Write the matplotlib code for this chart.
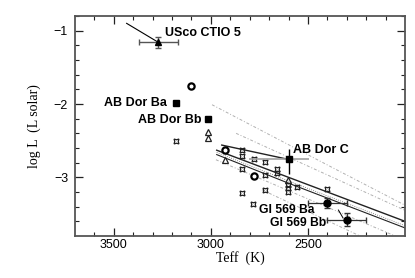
import matplotlib
matplotlib.use("Agg")
import matplotlib.pyplot as plt

# labelled objects
usco_teff, usco_logl = 3270, -1.16
abdor_ba = (3180, -1.99)
abdor_bb = (3013, -2.21)
abdor_c = (2600, -2.75)
gl569_ba = (2400, -3.35)
gl569_bb = (2300, -3.58)

# field / cluster comparison objects
star_teff = [3180, 2841, 2841, 2778, 2721, 2841, 2661, 2661, 2721, 2721, 2841, 2785, 2601, 2601, 2601, 2558, 2403]
star_logl = [-2.51, -2.63, -2.71, -2.75, -2.79, -2.89, -2.88, -2.94, -2.97, -3.17, -3.22, -3.36, -3.10, -3.15, -3.20, -3.13, -3.16]
tri_teff = [3013, 3013, 2927, 2601]
tri_logl = [-2.38, -2.46, -2.76, -3.04]
ring_teff = [3102, 2780, 2927]
ring_logl = [-1.76, -2.98, -2.63]

# model tracks
iso_a_teff = [2944, 2601]
iso_a_logl = [-2.56, -2.755]
iso_b_teff = [2970, 2600, 2000]
iso_b_logl = [-2.63, -3.00, -3.60]
iso_c_teff = [2970, 2600, 2000]
iso_c_logl = [-2.69, -3.08, -3.69]
grey_tracks = [
    ([2994, 2350, 2000], [-2.01, -2.90, -3.38]),
    ([2870, 2000], [-2.40, -3.45]),
    ([2974, 2051], [-2.76, -3.80]),
    ([2737, 2232], [-3.17, -3.80]),
]

lab_font = dict(family="Liberation Sans", weight="bold", fontsize=9)

fig = plt.figure(figsize=(4.15, 2.78), dpi=100)
ax = fig.add_axes([0.1807, 0.1511, 0.7952, 0.7913])

for t, l in grey_tracks:
    ax.plot(t, l, color="#b0b0b0", lw=0.7, ls=(0, (3, 2, 1, 2)))
ax.plot(iso_a_teff, iso_a_logl, color="#222222", lw=1.0)
ax.plot(iso_b_teff, iso_b_logl, color="#222222", lw=1.0)
ax.plot(iso_c_teff, iso_c_logl, color="#222222", lw=0.8)
ax.plot(iso_c_teff, [v + 0.03 for v in iso_c_logl], color="#666666", lw=0.6, ls=":")

ax.plot(star_teff, star_logl, ls="none", marker=(4, 1, 45), ms=5, mfc="none", mec="#222222", mew=0.9)
ax.plot(tri_teff, tri_logl, ls="none", marker="^", ms=4, mfc="none", mec="#222222", mew=0.9)
ax.plot(ring_teff, ring_logl, ls="none", marker="o", ms=4.5, mfc="white", mec="black", mew=1.6)

# USco CTIO 5
ax.plot([3434, usco_teff], [-0.90, usco_logl], color="black", lw=0.8)
ax.errorbar(usco_teff, usco_logl, xerr=100, yerr=0.08, fmt="^", color="black", ms=5,
            ecolor="#555555", elinewidth=1.0, capsize=2.5)
ax.text(3236, -1.025, "USco CTIO 5", va="center", ha="left", **lab_font)

# AB Dor
ax.plot(*abdor_ba, "s", color="black", ms=4.3)
ax.plot(*abdor_bb, "s", color="black", ms=4.3)
ax.text(3228, -1.99, "AB Dor Ba", va="center", ha="right", **lab_font)
ax.text(3047, -2.22, "AB Dor Bb", va="center", ha="right", **lab_font)
ax.errorbar(abdor_c[0], abdor_c[1], xerr=[[105], [205]], fmt="none", ecolor="#a0a0a0", elinewidth=1.2)
ax.errorbar(abdor_c[0], abdor_c[1], yerr=[[0.2], [0.13]], fmt="s", color="black", ms=4.3,
            elinewidth=1.0)
ax.text(2578, -2.63, "AB Dor C", va="center", ha="left", **lab_font)

# Gl 569 B
ax.errorbar(gl569_ba[0], gl569_ba[1], xerr=100, yerr=0.07, fmt="o", color="black", ms=5,
            ecolor="#333333", elinewidth=0.9, capsize=2)
ax.errorbar(gl569_bb[0], gl569_bb[1], xerr=100, yerr=0.09, fmt="o", color="black", ms=5,
            ecolor="#333333", elinewidth=0.9, capsize=2)
ax.plot([2343, 2319], [-3.446, -3.555], color="black", lw=0.7)
ax.text(2464, -3.45, "Gl 569 Ba", va="center", ha="right", fontsize=8.7,
        family="Liberation Sans", weight="bold")
ax.text(2407, -3.625, "Gl 569 Bb", va="center", ha="right", fontsize=8.7,
        family="Liberation Sans", weight="bold")

ax.set_xlim(3700, 2000)
ax.set_ylim(-3.8, -0.8)
ax.set_xticks([3500, 3000, 2500])
ax.set_xticks(range(2100, 3700, 100), minor=True)
ax.set_yticks([-3, -2, -1])
ax.set_yticks([-3.6, -3.4, -3.2, -2.8, -2.6, -2.4, -2.2, -1.8, -1.6, -1.4, -1.2, -0.8], minor=True)
ax.tick_params(which="both", direction="in", top=True, right=True, labelsize=9, color="#222222")
ax.tick_params(which="major", length=5.5, width=0.9)
ax.tick_params(which="minor", length=3, width=0.8)
ax.tick_params(axis="x", pad=2)
ax.tick_params(axis="y", pad=5)
for lab in ax.get_xticklabels() + ax.get_yticklabels():
    lab.set_family("Liberation Sans")
for sp in ax.spines.values():
    sp.set_color("#555555")
    sp.set_linewidth(1.3)

ax.set_xlabel("Teff  (K)", family="Liberation Serif", fontsize=10, labelpad=0)
ax.set_ylabel("log L  (L solar)", family="Liberation Serif", fontsize=10, labelpad=9)

plt.savefig("out.png", dpi=100)
